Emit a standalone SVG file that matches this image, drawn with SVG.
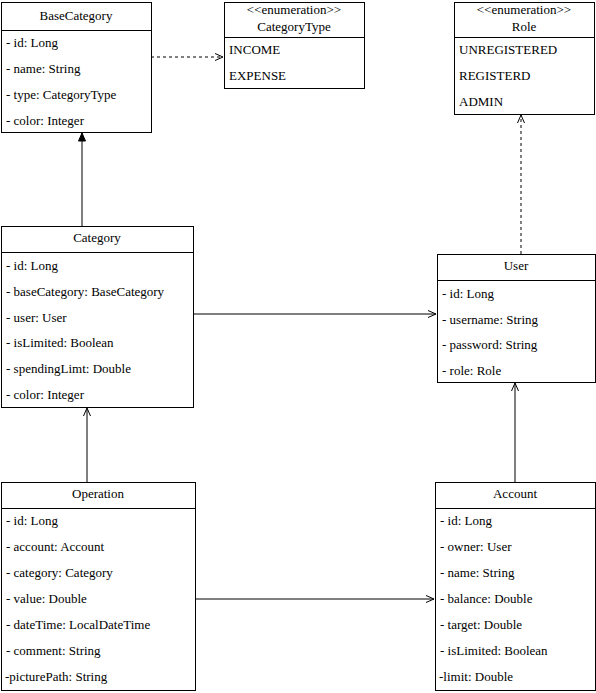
<svg xmlns="http://www.w3.org/2000/svg" width="596" height="693" viewBox="0 0 596 693">
<style>
.box{fill:#fff;stroke:#000;stroke-width:1}
.sep{stroke:#000;stroke-width:1}
text{font-family:"Times New Roman",Tinos,"Nimbus Roman","Nimbus Roman No9 L",FreeSerif,"Noto Serif","Liberation Serif",Times,serif;font-size:13px;fill:#000}
.c{text-anchor:middle}
.ln{fill:none;stroke:#000;stroke-width:1}
.dash{stroke-dasharray:3 3}
</style>
<defs>
<marker id="open" viewBox="0 0 10 10" refX="9" refY="5" markerWidth="10" markerHeight="10" markerUnits="userSpaceOnUse" orient="auto">
<path d="M1 1.5 L9 5 L1 8.5" fill="none" stroke="#000" stroke-width="1"/>
</marker>
<marker id="block" viewBox="0 0 10 10" refX="9" refY="5" markerWidth="10" markerHeight="10" markerUnits="userSpaceOnUse" orient="auto">
<path d="M1 1.5 L9 5 L1 8.5 Z" fill="#000" stroke="#000" stroke-width="1"/>
</marker>
</defs>
<rect width="596" height="693" fill="#fff"/>
<g id="connectors">
<line class="ln" x1="82" y1="226" x2="82" y2="133" marker-end="url(#block)"/>
<line class="ln dash" x1="151" y1="57" x2="223" y2="57" marker-end="url(#open)"/>
<line class="ln dash" x1="521" y1="254" x2="521" y2="115" marker-end="url(#open)"/>
<line class="ln" x1="193" y1="314" x2="436" y2="314" marker-end="url(#open)"/>
<line class="ln" x1="87" y1="482" x2="87" y2="408" marker-end="url(#open)"/>
<line class="ln" x1="515" y1="482" x2="515" y2="383" marker-end="url(#open)"/>
<line class="ln" x1="195" y1="599" x2="434" y2="599" marker-end="url(#open)"/>
</g>
<g id="BaseCategory">
<rect class="box" x="1.5" y="2.5" width="150" height="130"/>
<line class="sep" x1="1.5" y1="30.5" x2="151.5" y2="30.5"/>
<text class="c" x="76" y="20">BaseCategory</text>
<text x="6" y="47">- id: Long</text>
<text x="6" y="73">- name: String</text>
<text x="6" y="99">- type: CategoryType</text>
<text x="6" y="125">- color: Integer</text>
</g>
<g id="CategoryType">
<rect class="box" x="224.5" y="2.5" width="140" height="86"/>
<line class="sep" x1="224.5" y1="37.5" x2="364.5" y2="37.5"/>
<text class="c" x="294" y="14">&lt;&lt;enumeration&gt;&gt;</text>
<text class="c" x="294" y="31">CategoryType</text>
<text x="229" y="54">INCOME</text>
<text x="229" y="80">EXPENSE</text>
</g>
<g id="Role">
<rect class="box" x="454.5" y="2.5" width="140" height="112"/>
<line class="sep" x1="454.5" y1="37.5" x2="594.5" y2="37.5"/>
<text class="c" x="524" y="14">&lt;&lt;enumeration&gt;&gt;</text>
<text class="c" x="524" y="31">Role</text>
<text x="459" y="54">UNREGISTERED</text>
<text x="459" y="80">REGISTERD</text>
<text x="459" y="106">ADMIN</text>
</g>
<g id="Category">
<rect class="box" x="1.5" y="226.5" width="192" height="181"/>
<line class="sep" x1="1.5" y1="252.5" x2="193.5" y2="252.5"/>
<text class="c" x="97" y="242">Category</text>
<text x="6" y="270">- id: Long</text>
<text x="6" y="296">- baseCategory: BaseCategory</text>
<text x="6" y="322">- user: User</text>
<text x="6" y="347">- isLimited: Boolean</text>
<text x="6" y="373">- spendingLimt: Double</text>
<text x="6" y="399">- color: Integer</text>
</g>
<g id="User">
<rect class="box" x="437.5" y="254.5" width="158" height="128"/>
<line class="sep" x1="437.5" y1="280.5" x2="595.5" y2="280.5"/>
<text class="c" x="516" y="270">User</text>
<text x="442" y="298">- id: Long</text>
<text x="442" y="324">- username: String</text>
<text x="442" y="349">- password: String</text>
<text x="442" y="375">- role: Role</text>
</g>
<g id="Operation">
<rect class="box" x="1.5" y="482.5" width="194" height="208"/>
<line class="sep" x1="1.5" y1="508.5" x2="195.5" y2="508.5"/>
<text class="c" x="98" y="498">Operation</text>
<text x="6" y="525">- id: Long</text>
<text x="6" y="551">- account: Account</text>
<text x="6" y="577">- category: Category</text>
<text x="6" y="603">- value: Double</text>
<text x="6" y="629">- dateTime: LocalDateTime</text>
<text x="6" y="655">- comment: String</text>
<text x="5" y="681">-picturePath: String</text>
</g>
<g id="Account">
<rect class="box" x="435.5" y="482.5" width="160" height="208"/>
<line class="sep" x1="435.5" y1="508.5" x2="595.5" y2="508.5"/>
<text class="c" x="515" y="498">Account</text>
<text x="440" y="525">- id: Long</text>
<text x="440" y="551">- owner: User</text>
<text x="440" y="577">- name: String</text>
<text x="440" y="603">- balance: Double</text>
<text x="440" y="629">- target: Double</text>
<text x="440" y="655">- isLimited: Boolean</text>
<text x="439" y="681">-limit: Double</text>
</g>
</svg>
